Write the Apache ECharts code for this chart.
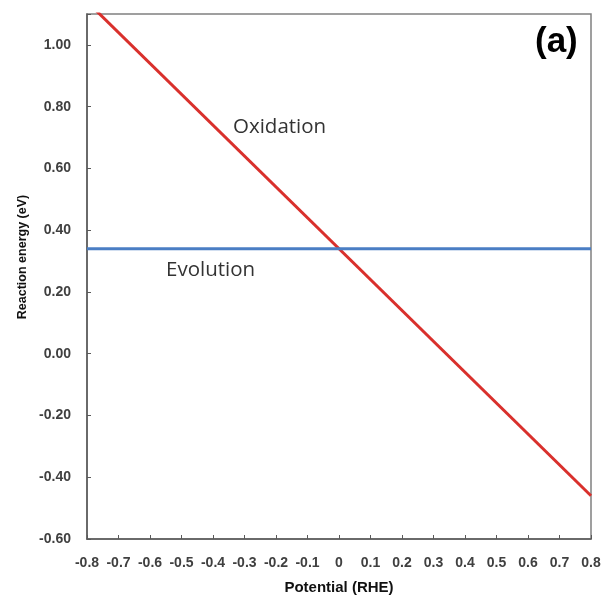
<!DOCTYPE html>
<html><head><meta charset="utf-8">
<script src="https://cdn.jsdelivr.net/npm/echarts@6/dist/echarts.min.js"></script>
<style>html,body{margin:0;padding:0;background:#fff}#c{width:604px;height:598px}</style>
</head><body><div id="c"></div>
<script>
const oxidationX = [-0.8, 0.8];
const oxidationY = [1.14, -0.46];
const evolutionX = [-0.8, 0.8];
const evolutionY = [0.34, 0.34];
const xTicks = [-0.8,-0.7,-0.6,-0.5,-0.4,-0.3,-0.2,-0.1,0,0.1,0.2,0.3,0.4,0.5,0.6,0.7,0.8];
const yTicks = [-0.6,-0.4,-0.2,0,0.2,0.4,0.6,0.8,1.0];
const xTitle = 'Potential (RHE)';
const yTitle = 'Reaction energy (eV)';

const chart = echarts.init(document.getElementById('c'), null, {renderer:'canvas'});
const axisCol = '#595959';
const lblStyle = {color:'#404040', fontFamily:'Liberation Sans, Arial', fontWeight:'bold', fontSize:14};
chart.setOption({
  animation:false,
  grid:{left:87, top:14, right:13, bottom:59, containLabel:false, outerBoundsMode:'none',
        show:true, borderColor:'#808080', borderWidth:1.5},
  xAxis:{type:'value', min:-0.8, max:0.8, interval:0.1,
    name:xTitle, nameLocation:'middle', nameGap:41,
    nameTextStyle:{color:'#111', fontFamily:'Liberation Sans, Arial', fontWeight:'bold', fontSize:15},
    axisLine:{show:true, onZero:false, lineStyle:{color:axisCol, width:1.5}},
    axisTick:{show:true, inside:true, length:4, lineStyle:{color:axisCol}},
    splitLine:{show:false},
    axisLabel:{...lblStyle, margin:17, formatter:v=>{
      const r = Math.round(v*10)/10; return xTicks.some(t=>Math.abs(t-r)<1e-9)? String(r):'';}}
  },
  yAxis:{type:'value', min:-0.6, max:1.1, interval:0.2,
    axisLine:{show:true, onZero:false, lineStyle:{color:axisCol, width:1.5}},
    axisTick:{show:true, inside:true, length:4, lineStyle:{color:axisCol}},
    splitLine:{show:false},
    axisLabel:{...lblStyle, margin:16, formatter:v=>{
      const r = Math.round(v*10)/10; return yTicks.some(t=>Math.abs(t-r)<1e-9)? r.toFixed(2):'';}}
  },
  series:[
    {type:'line', name:'Oxidation', data:oxidationX.map((x,i)=>[x,oxidationY[i]]), symbol:'none', clip:true,
     lineStyle:{color:'#d9302c', width:3}},
    {type:'line', name:'Evolution', data:evolutionX.map((x,i)=>[x,evolutionY[i]]), symbol:'none', clip:true,
     lineStyle:{color:'#4a7ec4', width:3}}
  ],
  graphic:[
    {type:'text', x:23, y:257, rotation:Math.PI/2,
     style:{text:yTitle, fill:'#111', font:'bold 12.5px "Liberation Sans", Arial', textAlign:'center', textVerticalAlign:'middle'}},
    {type:'text', left:233, top:117, style:{text:'Oxidation', fill:'#333', font:'20.5px "Open Sans", sans-serif'}},
    {type:'text', left:166, top:260, style:{text:'Evolution', fill:'#333', font:'20.5px "Open Sans", sans-serif'}},
    {type:'text', left:535, top:25, style:{text:'(a)', fill:'#000', font:'bold 35px "Liberation Sans", Arial'}}
  ]
});
</script></body></html>
